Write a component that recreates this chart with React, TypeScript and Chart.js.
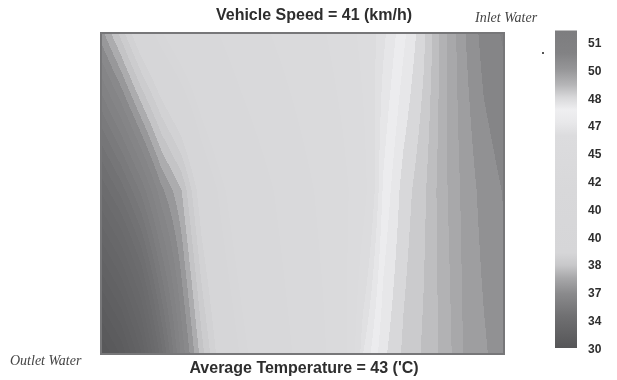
import React, { useEffect, useRef } from "react";
import { Chart, registerables } from "chart.js";

Chart.register(...registerables);

// Sampled temperature field (°C). Columns run from the outlet side (0) to the
// inlet side (100); rows are the top edge, the mid-height kink and the bottom edge.
const columnPositions = [0, 5, 10, 15, 20, 25, 30, 35, 40, 45, 50, 55, 60, 65, 70, 75, 80, 85, 90, 95, 100];
const rowPositions = [100, 51, 0];
const topRowTemps = [37.3, 38.3, 39.4, 40.2, 40.9, 41.5, 42.1, 42.7, 43.2, 43.7, 44.2, 44.7, 45.3, 46.1, 46.8, 47.5, 48.2, 49.2, 50.0, 50.55, 50.8];
const midRowTemps = [34.0, 34.8, 35.8, 37.0, 37.8, 39.2, 40.1, 40.9, 41.6, 42.3, 43.0, 43.7, 44.5, 45.5, 47.3, 48.1, 48.56, 49.24, 49.8, 50.19, 50.43];
const bottomRowTemps = [30.4, 31.2, 32.5, 34.5, 36.5, 38.0, 39.2, 40.0, 40.8, 41.6, 42.4, 43.2, 44.3, 46.9, 47.85, 48.36, 48.7, 49.1, 49.72, 50.0, 50.25];
const fieldRows = [topRowTemps, midRowTemps, bottomRowTemps];

// Colour bar tick labels, top to bottom
const colorbarLabels = ["51", "50", "48", "47", "45", "42", "40", "40", "38", "37", "34", "30"];
const colorbarValues = [51, 50, 48, 47, 45, 42, 40, 40, 38, 37, 34, 30];

// Gray ramp along the colour bar: (position in label steps, gray level)
const rampIndex = [-0.47, 0.33, 0.9, 1.47, 1.93, 2.38, 2.84, 3.3, 5.24, 7.52, 7.97, 8.43, 9.0, 9.8, 10.94];
const rampGray = [0x7d, 0x82, 0x95, 0xb5, 0xd8, 0xef, 0xe8, 0xdc, 0xd8, 0xd6, 0xc8, 0xa8, 0x8a, 0x70, 0x56];

const TITLE = "Vehicle Speed = 41 (km/h)";
const FOOTER = "Average Temperature = 43 ('C)";
const INLET = "Inlet Water";
const OUTLET = "Outlet Water";

const BAR_TOP = rampIndex[0];
const BAR_BOTTOM = rampIndex[rampIndex.length - 1];
const BAND_STEP = 0.35;

function tempToIndex(t: number): number {
  const v = colorbarValues;
  if (t >= v[0]) return -(t - v[0]) / (v[0] - v[1]);
  const n = v.length;
  if (t <= v[n - 1]) return n - 1 + (v[n - 1] - t) / (v[n - 2] - v[n - 1]);
  for (let i = 0; i < n - 1; i++) {
    const a = v[i];
    const b = v[i + 1];
    if (a === b) continue;
    if (t <= a && t >= b) return i + (a - t) / (a - b);
  }
  return n - 1;
}

function indexToGray(idx: number): number {
  if (idx <= rampIndex[0]) return rampGray[0];
  const n = rampIndex.length;
  if (idx >= rampIndex[n - 1]) return rampGray[n - 1];
  for (let k = 0; k < n - 1; k++) {
    if (idx >= rampIndex[k] && idx <= rampIndex[k + 1]) {
      const f = (idx - rampIndex[k]) / (rampIndex[k + 1] - rampIndex[k]);
      return rampGray[k] + f * (rampGray[k + 1] - rampGray[k]);
    }
  }
  return rampGray[n - 1];
}

function grayCss(g: number): string {
  const r = Math.round(g);
  return `rgb(${r},${r},${Math.min(255, r + 2)})`;
}

function locate(positions: number[], value: number, descending: boolean): [number, number] {
  const n = positions.length;
  for (let i = 0; i < n - 1; i++) {
    const a = positions[i];
    const b = positions[i + 1];
    const inside = descending ? value <= a && value >= b : value >= a && value <= b;
    if (inside) return [i, (value - a) / (b - a)];
  }
  if (descending ? value > positions[0] : value < positions[0]) return [0, 0];
  return [n - 2, 1];
}

// Shaded temperature field, frame and annotations
const fieldPlugin = {
  id: "temperatureField",
  beforeDatasetsDraw(chart: any) {
    const { ctx, chartArea, scales } = chart;
    const left = Math.round(chartArea.left);
    const top = Math.round(chartArea.top);
    const w = Math.round(chartArea.right) - left;
    const h = Math.round(chartArea.bottom) - top;
    const off = document.createElement("canvas");
    off.width = w;
    off.height = h;
    const octx = off.getContext("2d")!;
    const img = octx.createImageData(w, h);
    const colInfo = [];
    for (let px = 0; px < w; px++) {
      colInfo.push(locate(columnPositions, scales.x.getValueForPixel(left + px + 0.5), false));
    }
    for (let py = 0; py < h; py++) {
      const [r, fy] = locate(rowPositions, scales.y.getValueForPixel(top + py + 0.5), true);
      const upper = fieldRows[r];
      const lower = fieldRows[r + 1];
      for (let px = 0; px < w; px++) {
        const [c, fx] = colInfo[px];
        const a = upper[c] + fx * (upper[c + 1] - upper[c]);
        const b = lower[c] + fx * (lower[c + 1] - lower[c]);
        const t = a + fy * (b - a);
        const level = Math.floor(t / BAND_STEP) * BAND_STEP + BAND_STEP / 2;
        const g = indexToGray(tempToIndex(level));
        const o = (py * w + px) * 4;
        img.data[o] = g;
        img.data[o + 1] = g;
        img.data[o + 2] = Math.min(255, g + 2);
        img.data[o + 3] = 255;
      }
    }
    octx.putImageData(img, 0, 0);
    ctx.save();
    ctx.drawImage(off, left, top);
    ctx.restore();
  },
  afterDraw(chart: any) {
    const { ctx, chartArea } = chart;
    ctx.save();
    ctx.strokeStyle = "#777779";
    ctx.lineWidth = 2;
    ctx.strokeRect(chartArea.left, chartArea.top, chartArea.right - chartArea.left, chartArea.bottom - chartArea.top);

    ctx.fillStyle = "#2e2e2e";
    ctx.font = 'bold 16px "Liberation Sans", Arial, sans-serif';
    ctx.textAlign = "center";
    ctx.textBaseline = "middle";
    ctx.fillText(TITLE, 314, 16);
    ctx.fillText(FOOTER, 304, 369);

    ctx.fillStyle = "#444";
    ctx.font = 'italic 14px "Liberation Serif", "Times New Roman", serif';
    ctx.textAlign = "left";
    ctx.fillText(INLET, 475, 18);
    ctx.fillText(OUTLET, 10, 361);

    ctx.fillStyle = "#555";
    ctx.fillRect(542, 52, 2, 2);
    ctx.restore();
  },
};

export default function App() {
  const mainRef = useRef<HTMLCanvasElement>(null);
  const barRef = useRef<HTMLCanvasElement>(null);

  useEffect(() => {
    const nodes: { x: number; y: number }[] = [];
    rowPositions.forEach((y) => columnPositions.forEach((x) => nodes.push({ x, y })));

    const main = new Chart(mainRef.current!, {
      type: "scatter",
      data: {
        datasets: [{ data: nodes, pointRadius: 0, pointHoverRadius: 0 }],
      },
      options: {
        animation: false,
        responsive: false,
        events: [],
        layout: { padding: { left: 101, top: 33, right: 113, bottom: 26 } },
        scales: {
          x: { type: "linear", min: 0, max: 100, display: false },
          y: { type: "linear", min: 0, max: 100, display: false },
        },
        plugins: { legend: { display: false }, tooltip: { enabled: false } },
      },
      plugins: [fieldPlugin],
    });

    const bar = new Chart(barRef.current!, {
      type: "bar",
      data: {
        labels: ["scale"],
        datasets: [
          {
            data: [[BAR_TOP, BAR_BOTTOM]] as any,
            barPercentage: 1,
            categoryPercentage: 1,
            borderWidth: 0,
            backgroundColor: (c: any) => {
              const ch = c.chart;
              if (!ch.chartArea) return "#ccc";
              const ys = ch.scales.y;
              const y0 = ys.getPixelForValue(BAR_TOP);
              const y1 = ys.getPixelForValue(BAR_BOTTOM);
              const grad = ch.ctx.createLinearGradient(0, y0, 0, y1);
              rampIndex.forEach((idx, k) => {
                grad.addColorStop((idx - BAR_TOP) / (BAR_BOTTOM - BAR_TOP), grayCss(rampGray[k]));
              });
              return grad;
            },
          },
        ],
      },
      options: {
        animation: false,
        responsive: false,
        events: [],
        layout: { padding: { left: 15, top: 30, right: 0, bottom: 28 } },
        scales: {
          x: { display: false },
          y: {
            type: "linear",
            position: "right",
            reverse: true,
            min: -0.5,
            max: 11.1,
            afterBuildTicks: (s: any) => {
              s.ticks = colorbarLabels.map((_, i) => ({ value: i }));
            },
            afterFit: (s: any) => {
              s.width = 40;
            },
            grid: { display: false, drawTicks: false },
            border: { display: false },
            ticks: {
              autoSkip: false,
              padding: 11,
              color: "#2e2e2e",
              font: { family: '"Liberation Sans", Arial, sans-serif', size: 12, weight: "bold" },
              callback: (v: any) => colorbarLabels[Math.round(Number(v))] ?? "",
            },
          },
        },
        plugins: { legend: { display: false }, tooltip: { enabled: false } },
      },
    });

    return () => {
      main.destroy();
      bar.destroy();
    };
  }, []);

  return (
    <div style={{ position: "fixed", left: 0, top: 0, width: 617, height: 380, background: "#fff" }}>
      <canvas ref={mainRef} width={617} height={380} style={{ position: "absolute", left: 0, top: 0, width: 617, height: 380 }} />
      <canvas ref={barRef} width={77} height={380} style={{ position: "absolute", left: 540, top: 0, width: 77, height: 380 }} />
    </div>
  );
}
